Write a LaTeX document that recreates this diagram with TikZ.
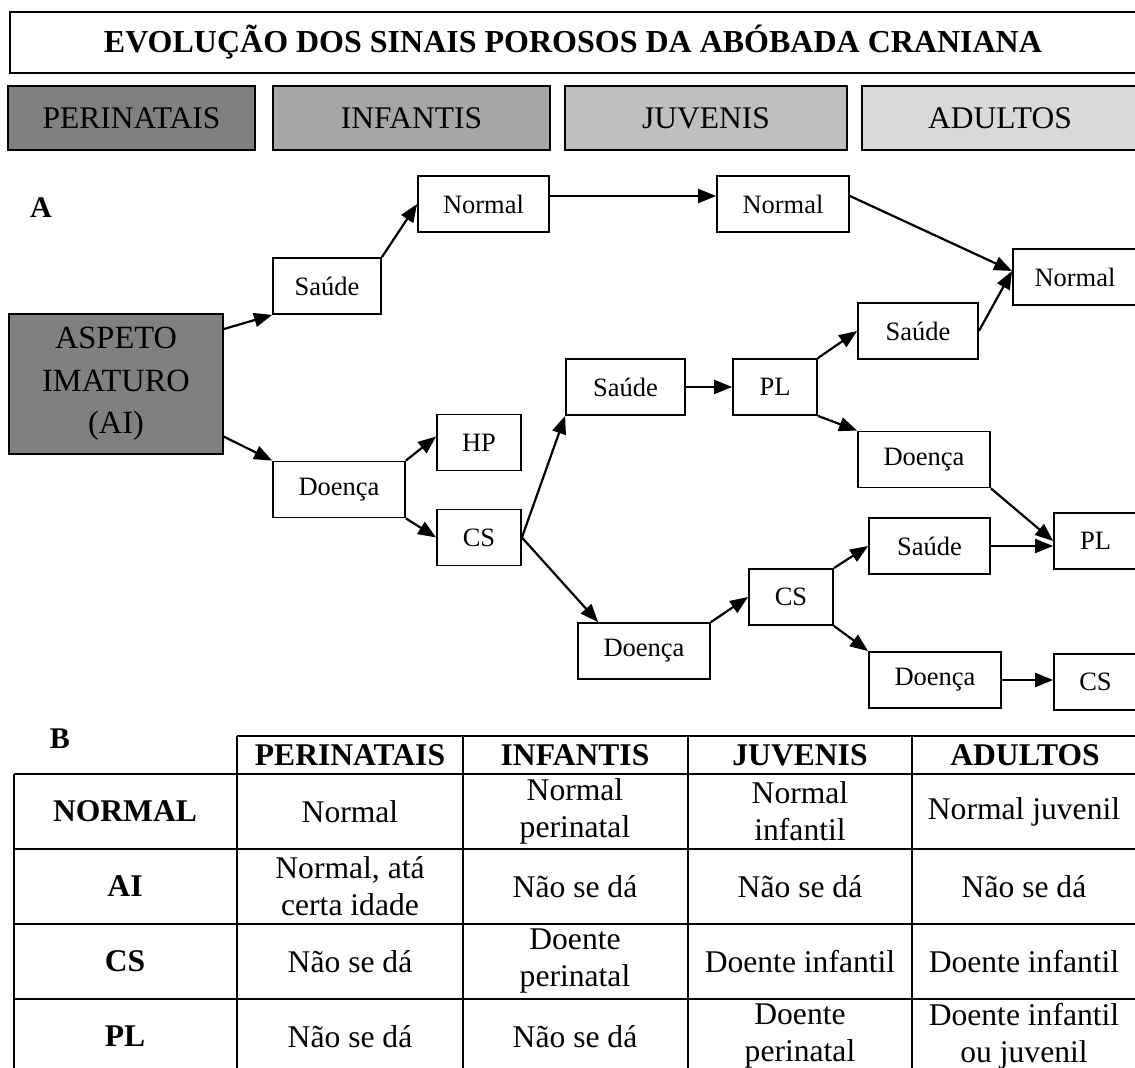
\documentclass[tikz,border=0pt]{standalone}
\usepackage{fontspec}
\setmainfont{Liberation Serif}
\usetikzlibrary{arrows.meta}
\definecolor{perigray}{HTML}{808080}
\definecolor{infgray}{HTML}{A6A6A6}
\definecolor{juvgray}{HTML}{BFBFBF}
\definecolor{adugray}{HTML}{D9D9D9}

\begin{document}
\begin{tikzpicture}[x=0.5pt, y=-0.5pt,
  box/.style={rectangle, draw, fill=white, line width=0.9pt, inner sep=0pt,
              minimum height=28pt, align=center, font=\fontsize{13.25}{16}\selectfont},
  agebox/.style={rectangle, draw, line width=0.9pt, inner sep=0pt,
                 minimum height=32pt, font=\fontsize{15.75}{19}\selectfont},
  arrow/.style={-{Triangle[length=9pt,width=7pt]}, line width=1.1pt},
  tabline/.style={line width=1.1pt},
  thead/.style={inner sep=0pt, font=\fontsize{15.8}{18.5}\selectfont\bfseries},
  cell/.style={inner sep=0pt, align=center, font=\fontsize{15.8}{18.5}\selectfont}
]
  \useasboundingbox (0,0) rectangle (1135,1068);

  % title and age classes
  \node[draw, line width=0.9pt, minimum width=563pt, minimum height=30.5pt,
        font=\fontsize{16}{19}\selectfont\bfseries] (title) at (573,42.5)
        {EVOLUÇÃO DOS SINAIS POROSOS DA ABÓBADA CRANIANA};
  \node[agebox, fill=perigray, minimum width=123.5pt] (peri) at (131.5,118) {PERINATAIS};
  \node[agebox, fill=infgray, minimum width=138.5pt] (inf) at (411.5,118) {INFANTIS};
  \node[agebox, fill=juvgray, minimum width=141pt] (juv) at (706,118) {JUVENIS};
  \node[agebox, fill=adugray, minimum width=138pt] (adu) at (1000,118) {ADULTOS};

  % part A
  \node[font=\fontsize{15}{17}\selectfont\bfseries] (labA) at (41,208) {A};
  \node[box, fill=perigray, minimum width=107pt, minimum height=70pt,
        font=\fontsize{16.2}{21.25}\selectfont] (aspeto) at (116,384) {ASPETO\\IMATURO\\(AI)};
  \node[box, minimum width=54pt] (saude1) at (327,286) {Saúde};
  \node[box, minimum width=66pt] (doenca1) at (339,489.5) {Doença};
  \node[box, minimum width=65.5pt] (normA) at (483.5,204) {Normal};
  \node[box, minimum width=66pt] (normB) at (783,204) {Normal};
  \node[box, minimum width=62pt] (normC) at (1075,277) {Normal};
  \node[box, minimum width=42pt] (hp) at (479,442.5) {HP};
  \node[box, minimum width=42pt] (cs1) at (479,537.5) {CS};
  \node[box, minimum width=59.5pt] (saude3) at (625.5,387) {Saúde};
  \node[box, minimum width=42pt] (pl1) at (775,387) {PL};
  \node[box, minimum width=60pt] (saude2) at (918,331) {Saúde};
  \node[box, minimum width=66pt] (doenca2) at (924,459.5) {Doença};
  \node[box, minimum width=41.5pt] (pl2) at (1095.5,541) {PL};
  \node[box, minimum width=66pt] (doenca3) at (644,651) {Doença};
  \node[box, minimum width=42pt] (cs2) at (791,597) {CS};
  \node[box, minimum width=60.5pt] (saude4) at (929.5,546) {Saúde};
  \node[box, minimum width=66pt] (doenca4) at (935,680) {Doença};
  \node[box, minimum width=41.5pt] (cs3) at (1095.5,682) {CS};

  \draw[arrow] (aspeto.27) -- (saude1.south west);
  \draw[arrow] (aspeto.-26) -- (doenca1.north west);
  \draw[arrow] (saude1.north east) -- (normA.west);
  \draw[arrow] ([yshift=4pt]normA.east) -- ([yshift=4pt]normB.west);
  \draw[arrow] ([yshift=4pt]normB.east) -- ([yshift=3pt]normC.west);
  \draw[arrow] (saude2.east) -- ([yshift=3pt]normC.west);
  \draw[arrow] (doenca1.north east) -- ([yshift=3pt]hp.west);
  \draw[arrow] (doenca1.south east) -- (cs1.west);
  \draw[arrow] (cs1.east) -- (saude3.south west);
  \draw[arrow] (cs1.east) -- ([xshift=10.5pt]doenca3.north west);
  \draw[arrow] (saude3.east) -- (pl1.west);
  \draw[arrow] (pl1.north east) -- (saude2.west);
  \draw[arrow] (pl1.south east) -- (doenca2.north west);
  \draw[arrow] (doenca2.south east) -- (pl2.west);
  \draw[arrow] (saude4.east) -- (saude4.east -| pl2.west);
  \draw[arrow] (doenca3.north east) -- (cs2.west);
  \draw[arrow] (cs2.north east) -- (saude4.west);
  \draw[arrow] (cs2.south east) -- (doenca4.north west);
  \draw[arrow] (doenca4.east) -- (doenca4.east -| cs3.west);

  % part B
  \node[font=\fontsize{15}{17}\selectfont\bfseries] (labB) at (60,739) {B};
  \draw[tabline] (237,736) -- (1136,736);
  \foreach \y in {774,849,924,999}
    \draw[tabline] (14,\y) -- (1136,\y);
  \draw[tabline] (14,774) -- (14,1074);
  \foreach \x in {237,463,688,912,1136}
    \draw[tabline] (\x,736) -- (\x,1074);

  \foreach \lbl [count=\c] in {PERINATAIS,INFANTIS,JUVENIS,ADULTOS}
    \node[thead] (th\c) at ({125+225*\c},755) {\lbl};
  \foreach \lbl [count=\r] in {NORMAL,AI,CS,PL}
    \node[thead] (tr\r) at (125,{736.5+75*\r}) {\lbl};

  \node[cell] (c11) at (350,811.5) {Normal};
  \node[cell] (c12) at (575,811.5) {Normal\\perinatal};
  \node[cell] (c13) at (800,811.5) {Normal\\infantil};
  \node[cell] (c14) at (1024,811.5) {Normal juvenil};
  \node[cell] (c21) at (350,886.5) {Normal, atá\\certa idade};
  \node[cell] (c22) at (575,886.5) {Não se dá};
  \node[cell] (c23) at (800,886.5) {Não se dá};
  \node[cell] (c24) at (1024,886.5) {Não se dá};
  \node[cell] (c31) at (350,961.5) {Não se dá};
  \node[cell] (c32) at (575,961.5) {Doente\\perinatal};
  \node[cell] (c33) at (800,961.5) {Doente infantil};
  \node[cell] (c34) at (1024,961.5) {Doente infantil};
  \node[cell] (c41) at (350,1036.5) {Não se dá};
  \node[cell] (c42) at (575,1036.5) {Não se dá};
  \node[cell] (c43) at (800,1036.5) {Doente\\perinatal};
  \node[cell] (c44) at (1024,1036.5) {Doente infantil\\ou juvenil};
\end{tikzpicture}
\end{document}
